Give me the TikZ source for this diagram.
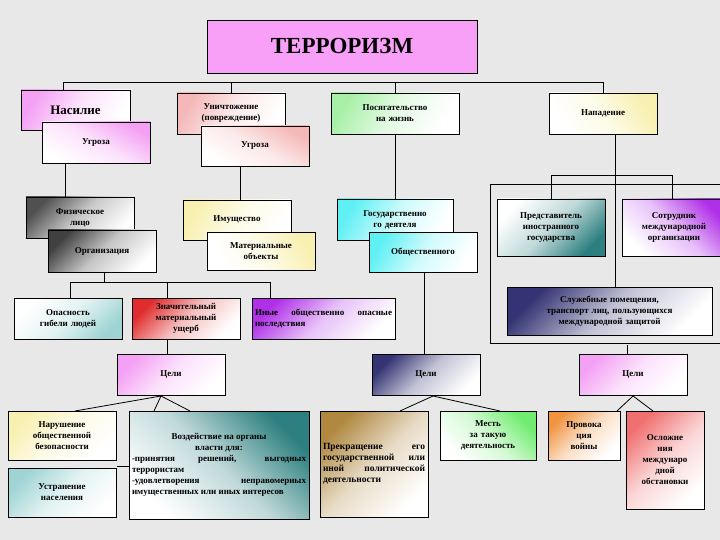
\documentclass[tikz,border=0pt]{standalone}
\usepackage{fontspec}
\setmainfont{Liberation Serif}
\definecolor{bg}{HTML}{E8E8E8}
\definecolor{pinkv}{HTML}{F4A0F4}
\definecolor{salm}{HTML}{F4B8B8}
\definecolor{lgreen}{HTML}{A8F0A8}
\definecolor{lyel}{HTML}{F8F0B0}
\definecolor{lcyan}{HTML}{60F0F4}
\definecolor{teal}{HTML}{2E8080}
\definecolor{viol}{HTML}{B030E8}
\definecolor{navy}{HTML}{343474}
\definecolor{redd}{HTML}{E02C2C}
\definecolor{brn}{HTML}{B08840}
\definecolor{grn}{HTML}{70EC70}
\definecolor{org}{HTML}{F09440}
\definecolor{salr}{HTML}{F07070}
\definecolor{lteal}{HTML}{A0D4D4}
\definecolor{titc}{HTML}{F8A0F8}
\definecolor{gra}{HTML}{505050}
\definecolor{grb}{HTML}{404040}
\tikzset{
  box/.style={draw=black,line width=0.8pt,inner sep=1pt,outer sep=0pt,align=center,
    font=\fontsize{9}{11}\selectfont\bfseries},
  g/.style 2 args={left color=#1,right color=white,middle color=#1!30!white,shading angle=#2},
  ln/.style={line width=0.8pt}
}
\newcommand\bx[7]{\pgfmathsetmacro\tw{#4-#2-6}%
  \node[box,#6,text width=\tw pt,minimum width={(#4-#2)*1pt},minimum height={(#5-#3)*1pt}] (#1) at ({(#2+#4)/2},{(#3+#5)/2}) {#7};}
\begin{document}
\begin{tikzpicture}[x=1pt,y=-1pt]
\fill[bg] (0,0) rectangle (720,540);
\useasboundingbox (0,0) rectangle (720,540);
\begin{scope}
\clip (0,0) rectangle (720,540);
% title
\node[draw,line width=0.8pt,fill=titc,minimum width=270pt,minimum height=53pt,font=\fontsize{23}{26}\selectfont\bfseries] (tit) at (342,46.5) {ТЕРРОРИЗМ};
% row 1
\bx{nas}{21}{90}{130}{130}{g={pinkv}{60}}{\fontsize{13}{15}\selectfont Насилие}
\bx{ug1}{42}{122}{150}{163}{g={pinkv}{-30}}{Угроза}
\bx{uni}{177}{93}{285}{134}{g={salm}{60}}{Уничтожение\\(повреждение)}
\bx{ug2}{201}{126}{309}{166}{g={salm}{-30}}{Угроза}
\bx{pos}{331}{93}{459}{134}{g={lgreen}{60}}{Посягательство\\на жизнь}
\bx{nap}{549}{93}{657}{134}{g={lyel}{-60}}{Нападение}
\coordinate (bus) at (0,82);
\draw[ln] ([xshift=-12pt]nas.north) -- ([xshift=-12pt]nas.north |- bus) -| (nap.north);
\draw[ln] (uni.north) -- (uni.north |- bus);
\draw[ln] (pos.north) -- (pos.north |- bus);
% row 2
\bx{fiz}{26}{197}{134}{238}{g={gra}{45}}{Физическое\\лицо}
\bx{org}{48}{230}{156}{272}{g={grb}{45}}{Организация}
\bx{imu}{183}{200}{291}{240}{g={lyel}{60}}{Имущество}
\bx{mat}{207}{232}{315}{270}{g={lyel}{-60}}{Материальные\\объекты}
\bx{gos}{337}{199}{453}{240}{g={lcyan}{60}}{Государственно\\го деятеля}
\bx{obs}{369}{232}{477}{272}{g={lcyan}{60}}{Общественного}
\draw[ln] (fiz.north -| 65,0) -- (65,163);
\draw[ln] (imu.north -| 240,0) -- (240,166);
\draw[ln] (gos.north -| pos.south) -- (pos.south);
% right group
\draw[ln] (615,134) -- (615,287);
\draw[ln] (725,184) -- (490,184) -- (490,343) -- (725,343);
\bx{pre}{497}{199}{605}{256}{g={teal}{-135}}{Представитель\\иностранного\\государства}
\bx{sot}{622}{199}{726}{256}{g={viol}{-45}}{Сотрудник\\международной\\организации}
\draw[ln] (pre.north) -- ++(0,-24) -| ([xshift=-2pt]sot.north);
\bx{slu}{507}{287}{712}{335}{g={navy}{45}}{Служебные помещения,\\транспорт лиц, пользующихся\\международной защитой}
% row 3
\bx{opa}{14}{298}{122}{339}{g={lteal}{-135}}{Опасность\\гибели людей}
\bx{zna}{132}{298}{240}{339}{g={redd}{45}}{Значительный\\материальный\\ущерб}
\bx{ine}{252}{298}{395}{339}{g={viol}{45},align=justify}{Иные общественно опасные последствия}
\draw[ln] (org.south -| 104,0) -- (104,282);
\draw[ln] (opa.north -| 70,0) -- (70,282) -| (ine.north -| 270,0);
\draw[ln] (zna.north -| 167,0) -- (167,282);
% goals
\bx{ts1}{117}{354}{225}{395}{g={pinkv}{45}}{Цели}
\bx{ts2}{372}{354}{480}{395}{g={navy}{45}}{Цели}
\bx{ts3}{579}{354}{687}{395}{g={pinkv}{45}}{Цели}
\draw[ln] (zna.south -| 167,0) -- (ts1.north -| 167,0);
\draw[ln] (obs.south -| 424,0) -- (ts2.north -| 424,0);
\draw[ln] (slu.south -| 627,0) ++(0,10) -- (ts3.north -| 627,0);
% bottom
\bx{nar}{8}{411}{116}{460}{g={lyel}{45}}{Нарушение\\общественной\\безопасности}
\bx{ust}{8}{468}{116}{517}{g={lteal}{45}}{Устранение\\населения}
\bx{voz}{129}{411}{309}{519}{g={teal}{-45},align=justify}{{\centering Воздействие на органы\\власти для:\par}-принятия решений, выгодных террористам\\-удовлетворения неправомерных имущественных или иных интересов\par\vspace{12pt}}
\draw[ln] (161,396) -- (nar.north -| 75,0);
\draw[ln] (161,396) -- (voz.north -| 154,0);
\draw[ln] (161,396) -- (voz.north -| 190,0);
\draw[ln] (ust.north east) ++(1,-2) -- (voz.west |- 0,466);
\bx{pkr}{320}{411}{428}{517}{g={brn}{45},align=justify}{\fontsize{9.5}{13}\selectfont Прекращение его государственной или иной политической деятельности}
\bx{mes}{440}{411}{536}{460}{g={grn}{-45}}{Месть\\за такую\\деятельность}
\bx{prv}{548}{411}{620}{460}{g={org}{45}}{Провока\\ция\\войны}
\bx{osl}{626}{411}{704}{509}{g={salr}{45}}{Осложне\\ния\\междунаро\\дной\\обстановки}
\draw[ln] (433,396) -- (pkr.north -| 400,0);
\draw[ln] (433,396) -- (mes.north -| 500,0);
\draw[ln] (633,396) -- (prv.north -| 617,0);
\draw[ln] (633,396) -- (osl.north -| 653,0);
\end{scope}
\end{tikzpicture}
\end{document}
